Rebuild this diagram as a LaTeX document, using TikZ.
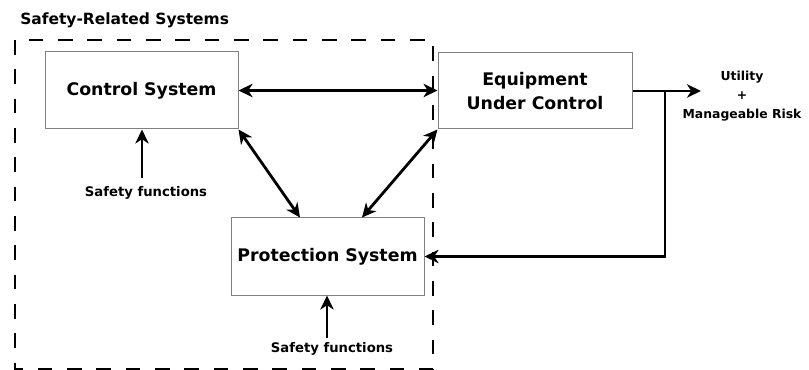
\documentclass[tikz,border=0pt]{standalone}
\usepackage{fontspec}
\setmainfont{DejaVu Sans}
\usetikzlibrary{arrows.meta,calc}

\tikzset{
  tip/.tip={Stealth[length=10.5pt,width=10pt,inset=3.2pt]},
  sysbox/.style={draw=black!50, line width=0.75pt, fill=white, align=center,
    font=\bfseries\fontsize{13}{18.5}\selectfont, inner sep=0pt},
  flow/.style={line width=2.1pt, -tip},
  biflow/.style={line width=2.1pt, tip-tip},
  note/.style={font=\bfseries\fontsize{9.9}{11}\selectfont, inner sep=0pt},
  boundary/.style={line width=2.2pt, dash pattern=on 11pt off 11pt},
}

\begin{document}
\begin{tikzpicture}[x=0.75pt, y=-0.75pt]
  \useasboundingbox (0,0) rectangle (809,370);
  \clip (0,0) rectangle (809,370);

  % boundary of the safety-related systems
  \draw[boundary] (15,40) rectangle (433,369.5);
  \node[font=\bfseries\fontsize{11.6}{13}\selectfont, anchor=west, inner sep=0pt] (title) at (20,20) {Safety-Related Systems};

  % main blocks
  \node[sysbox, minimum width=144.75pt, minimum height=57.75pt] (cs) at (141.5,90.5) {Control System};
  \node[sysbox, minimum width=145.5pt, minimum height=57pt] (euc) at (535,91) {Equipment\\Under Control};
  \node[sysbox, minimum width=144.75pt, minimum height=57.75pt] (ps) at (327.5,256.5) {Protection System};

  % interactions between blocks
  \draw[biflow] (cs.east) -- (cs.east -| euc.west);
  \draw[biflow] (cs.south east) -- ($(ps.north)+(-27.5,0)$);
  \draw[biflow] ($(ps.north)+(34.5,0)$) -- (euc.south west);

  % safety function inputs
  \node[note] (sf1) at (146,193) {Safety functions};
  \coordinate (sf1tail) at (142,178);
  \draw[flow] (sf1tail) -- (sf1tail |- cs.south);

  \node[note] (sf2) at (332,349) {Safety functions};
  \coordinate (sf2tail) at (327,338);
  \draw[flow] (sf2tail) -- (sf2tail |- ps.south);

  % output of the equipment and feedback path
  \coordinate (junc) at (665,91);
  \coordinate (outend) at (701,91);
  \draw[flow] (euc.east) -- (outend);
  \draw[flow] (junc) |- (ps.east);

  \node[note, align=center, font=\bfseries\fontsize{9.3}{14}\selectfont] (util) at (742,96) {Utility\\+\\Manageable Risk};
\end{tikzpicture}
\end{document}
